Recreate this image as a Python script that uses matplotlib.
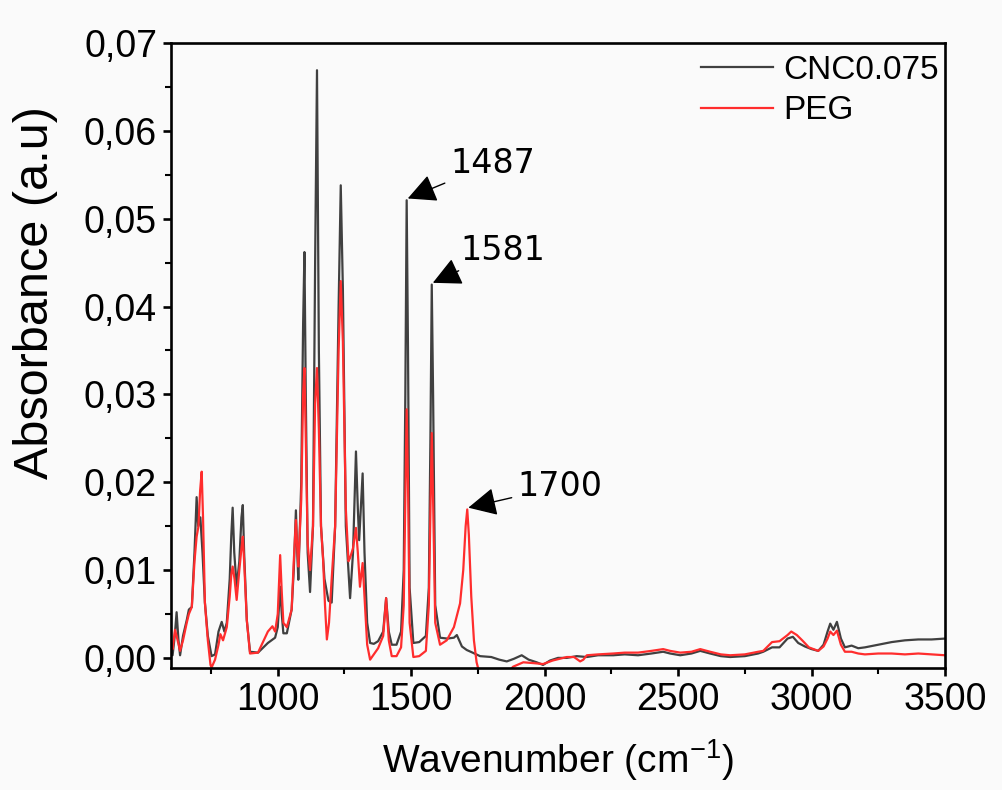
import matplotlib
matplotlib.use("Agg")
import matplotlib.pyplot as plt
from matplotlib.ticker import MultipleLocator, FuncFormatter

# ---------------- data ----------------
cnc_wavenumber = [
    600, 606, 614, 621, 628, 634, 645, 659, 667, 678,
    688, 696, 702, 710, 718, 727, 738, 752, 765, 778,
    790, 800, 809, 820, 826, 831, 837, 846, 856, 864,
    869, 874, 884, 896, 926, 963, 990, 1000, 1009, 1015,
    1021, 1034, 1052, 1060, 1068, 1073, 1077, 1088, 1095, 1100,
    1105, 1112, 1121, 1132, 1140, 1147, 1154, 1162, 1175, 1190,
    1202, 1215, 1228, 1236, 1244, 1255, 1271, 1282, 1293, 1300,
    1305, 1311, 1318, 1325, 1335, 1346, 1360, 1376, 1395, 1406,
    1416, 1427, 1445, 1462, 1472, 1478, 1483, 1488, 1494, 1508,
    1530, 1555, 1566, 1572, 1577, 1582, 1590, 1608, 1635, 1660,
    1671, 1690, 1708, 1730, 1758, 1800, 1830, 1858, 1885, 1914,
    1940, 1970, 1994, 2020, 2050, 2083, 2120, 2158, 2200, 2257,
    2300, 2350, 2400, 2444, 2470, 2508, 2550, 2583, 2620, 2660,
    2695, 2750, 2800, 2819, 2852, 2880, 2910, 2930, 2950, 2975,
    3000, 3025, 3045, 3060, 3070, 3082, 3095, 3110, 3125, 3150,
    3175, 3200, 3250, 3300, 3350, 3400, 3450, 3500,
]
cnc_absorbance = [
    0.0017, 0.0003, 0.0025, 0.0052, 0.0020, 0.0003, 0.0025, 0.0043, 0.0055, 0.0058,
    0.0120, 0.0183, 0.0150, 0.0160, 0.0120, 0.0063, 0.0025, 0.0002, 0.0004, 0.0030,
    0.0041, 0.0030, 0.0040, 0.0090, 0.0140, 0.0171, 0.0120, 0.0081, 0.0110, 0.0160,
    0.0174, 0.0120, 0.0043, 0.0007, 0.0006, 0.0017, 0.0023, 0.0035, 0.0081, 0.0050,
    0.0028, 0.0028, 0.0055, 0.0100, 0.0168, 0.0120, 0.0089, 0.0200, 0.0380, 0.0462,
    0.0300, 0.0120, 0.0075, 0.0150, 0.0450, 0.0669, 0.0350, 0.0150, 0.0090, 0.0065,
    0.0063, 0.0150, 0.0400, 0.0538, 0.0420, 0.0150, 0.0068, 0.0120, 0.0235, 0.0170,
    0.0134, 0.0170, 0.0210, 0.0120, 0.0040, 0.0017, 0.0016, 0.0019, 0.0030, 0.0068,
    0.0030, 0.0015, 0.0015, 0.0030, 0.0100, 0.0300, 0.0521, 0.0350, 0.0080, 0.0017,
    0.0018, 0.0025, 0.0080, 0.0250, 0.0425, 0.0300, 0.0060, 0.0023, 0.0022, 0.0023,
    0.0026, 0.0013, 0.0009, 0.0006, 0.0002, 0.0001, -0.0002, -0.0004, -0.0001, 0.0003,
    -0.0002, -0.0005, -0.0008, -0.0003, 0.0000, 0.0000, 0.0002, 0.0001, 0.0003, 0.0003,
    0.0004, 0.0003, 0.0005, 0.0007, 0.0005, 0.0003, 0.0005, 0.0008, 0.0005, 0.0002,
    0.0001, 0.0002, 0.0005, 0.0007, 0.0012, 0.0012, 0.0022, 0.0024, 0.0017, 0.0013,
    0.0010, 0.0008, 0.0015, 0.0030, 0.0039, 0.0032, 0.0041, 0.0022, 0.0012, 0.0014,
    0.0011, 0.0012, 0.0015, 0.0018, 0.0020, 0.0021, 0.0021, 0.0022,
]

peg_wavenumber = [
    600, 606, 615, 621, 634, 645, 659, 667, 678, 688,
    696, 703, 709, 715, 720, 727, 738, 748, 752, 765,
    778, 785, 795, 809, 820, 826, 831, 838, 846, 856,
    864, 869, 874, 884, 896, 926, 963, 980, 990, 1000,
    1009, 1015, 1021, 1034, 1052, 1060, 1068, 1073, 1077, 1088,
    1095, 1100, 1105, 1112, 1121, 1132, 1140, 1147, 1154, 1162,
    1170, 1177, 1184, 1192, 1202, 1215, 1228, 1236, 1244, 1255,
    1265, 1271, 1282, 1293, 1300, 1308, 1313, 1318, 1325, 1335,
    1346, 1360, 1376, 1395, 1406, 1416, 1427, 1445, 1462, 1472,
    1478, 1483, 1488, 1494, 1508, 1530, 1555, 1566, 1572, 1577,
    1582, 1590, 1608, 1633, 1660, 1683, 1695, 1704, 1710, 1716,
    1725, 1735, 1745, 1751, 1780, 1850, 1882, 1920, 1960, 1994,
    2030, 2083, 2110, 2133, 2145, 2158, 2200, 2257, 2300, 2350,
    2400, 2444, 2470, 2508, 2550, 2583, 2620, 2660, 2695, 2750,
    2800, 2819, 2852, 2880, 2910, 2924, 2945, 2965, 2990, 3025,
    3045, 3060, 3070, 3082, 3095, 3110, 3125, 3150, 3175, 3200,
    3250, 3300, 3350, 3400, 3450, 3500,
]
peg_absorbance = [
    0.0015, 0.0010, 0.0032, 0.0025, 0.0008, 0.0020, 0.0040, 0.0050, 0.0058, 0.0110,
    0.0138, 0.0150, 0.0190, 0.0212, 0.0160, 0.0063, 0.0020, -0.0008, -0.0011, -0.0002,
    0.0015, 0.0027, 0.0020, 0.0035, 0.0070, 0.0095, 0.0104, 0.0090, 0.0066, 0.0100,
    0.0125, 0.0138, 0.0110, 0.0043, 0.0005, 0.0006, 0.0030, 0.0036, 0.0030, 0.0050,
    0.0117, 0.0075, 0.0040, 0.0035, 0.0055, 0.0110, 0.0157, 0.0125, 0.0104, 0.0180,
    0.0300, 0.0330, 0.0250, 0.0130, 0.0100, 0.0150, 0.0290, 0.0330, 0.0260, 0.0150,
    0.0111, 0.0060, 0.0021, 0.0040, 0.0090, 0.0150, 0.0350, 0.0429, 0.0360, 0.0170,
    0.0110, 0.0114, 0.0125, 0.0148, 0.0120, 0.0081, 0.0095, 0.0108, 0.0070, 0.0015,
    -0.0002, 0.0004, 0.0011, 0.0025, 0.0068, 0.0020, 0.0002, 0.0002, 0.0012, 0.0060,
    0.0180, 0.0283, 0.0200, 0.0040, 0.0001, 0.0002, 0.0008, 0.0060, 0.0170, 0.0256,
    0.0180, 0.0040, 0.0015, 0.0020, 0.0035, 0.0062, 0.0100, 0.0150, 0.0169, 0.0140,
    0.0070, 0.0020, -0.0005, -0.0012, -0.0020, -0.0020, -0.0010, -0.0005, -0.0006, -0.0007,
    -0.0003, 0.0001, 0.0001, -0.0004, -0.0002, 0.0003, 0.0004, 0.0005, 0.0006, 0.0006,
    0.0008, 0.0010, 0.0008, 0.0006, 0.0007, 0.0010, 0.0007, 0.0004, 0.0003, 0.0004,
    0.0007, 0.0008, 0.0018, 0.0019, 0.0026, 0.0030, 0.0026, 0.0020, 0.0012, 0.0008,
    0.0013, 0.0022, 0.0030, 0.0026, 0.0031, 0.0015, 0.0007, 0.0007, 0.0005, 0.0004,
    0.0005, 0.0005, 0.0004, 0.0005, 0.0004, 0.0003,
]

series_labels = ["CNC0.075", "PEG"]
peak_labels = ["1487", "1581", "1700"]
peak_wavenumber = [1483, 1577, 1710]
peak_absorbance = [0.0521, 0.0425, 0.0169]
label_wavenumber = [1646, 1683, 1897]
label_absorbance = [0.0563, 0.0464, 0.0195]

x_ticks = [1000, 1500, 2000, 2500, 3000, 3500]
y_ticks = [0.00, 0.01, 0.02, 0.03, 0.04, 0.05, 0.06, 0.07]

# ---------------- figure ----------------
SANS = ["Liberation Sans", "DejaVu Sans"]

fig = plt.figure(figsize=(10.02, 7.90), dpi=100, facecolor="#fafafa")
ax = fig.add_axes([171 / 1002, 1 - 668 / 790, (945 - 171) / 1002, (668 - 43) / 790])
ax.set_facecolor("#fafafa")

ax.plot(cnc_wavenumber, cnc_absorbance, color="#404040", lw=1.6, label=series_labels[0])
ax.plot(peg_wavenumber, peg_absorbance, color="#ff2d2d", lw=1.6, label=series_labels[1])

ax.set_xlim(600, 3500)
ax.set_ylim(-0.00115, 0.07)

ax.set_xticks(x_ticks)
ax.xaxis.set_minor_locator(MultipleLocator(250))
ax.set_yticks(y_ticks)
ax.yaxis.set_minor_locator(MultipleLocator(0.005))
ax.yaxis.set_major_formatter(FuncFormatter(lambda v, p: f"{v:.2f}".replace(".", ",")))

for s in ax.spines.values():
    s.set_linewidth(1.9)
ax.tick_params(which="major", direction="out", length=6, width=1.9, pad=4)
ax.tick_params(which="minor", direction="out", length=4, width=1.5)
for lab in ax.get_xticklabels() + ax.get_yticklabels():
    lab.set_fontfamily(SANS)
    lab.set_fontsize(27)

ax.set_xlabel("Wavenumber (cm$^{\\mathregular{-1}}$)", fontsize=28, family=SANS, labelpad=14)
ax.set_ylabel("Absorbance (a.u)", fontsize=35, family=SANS)
ax.yaxis.set_label_coords(-0.146, 0.60)

leg = ax.legend(loc="upper right", bbox_to_anchor=(0.996, 0.986), frameon=False,
                prop={"family": SANS, "size": 24}, handlelength=2.15,
                handletextpad=0.3, labelspacing=0.28, borderaxespad=0.0,
                borderpad=0.1)

for lab, px, py, tx, ty in zip(peak_labels, peak_wavenumber, peak_absorbance,
                               label_wavenumber, label_absorbance):
    ax.annotate(lab, xy=(px + 4, py + 0.0002), xytext=(tx, ty),
                ha="left", va="center", fontsize=24, family=["DejaVu Sans"],
                arrowprops=dict(arrowstyle="-|>", color="black", lw=1.0,
                                mutation_scale=44, shrinkA=2, shrinkB=0))

fig.savefig("out.png", dpi=100, facecolor=fig.get_facecolor())
